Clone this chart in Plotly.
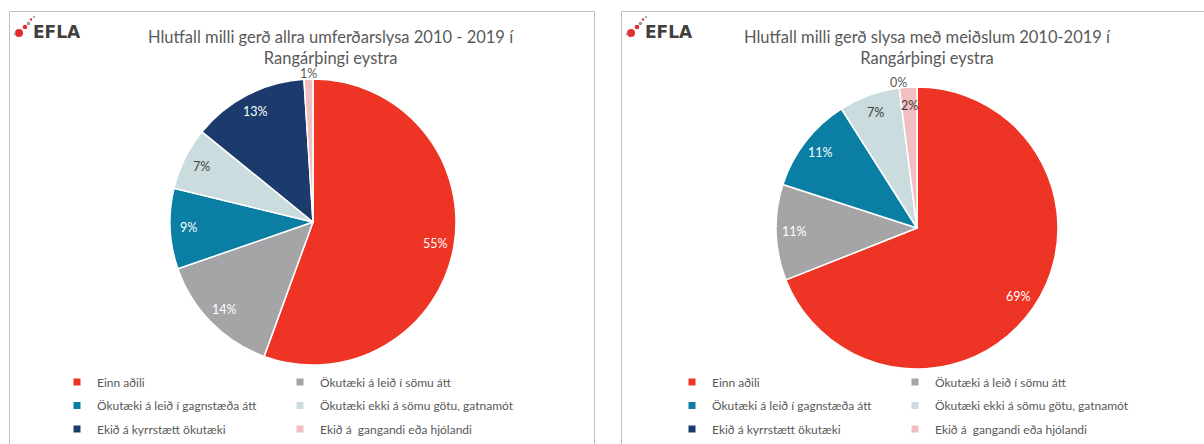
import math
import plotly.graph_objects as go

# ---------------- data ----------------
categories = [
    "Einn aðili",
    "Ökutæki á leið í sömu átt",
    "Ökutæki á leið í gagnstæða átt",
    "Ökutæki ekki á sömu götu, gatnamót",
    "Ekið á kyrrstætt ökutæki",
    "Ekið á  gangandi eða hjólandi",
]
all_accidents_pct = [55, 14, 9, 7, 13, 1]
injury_accidents_pct = [69, 11, 11, 7, 0, 2]
chart_titles = [
    "Hlutfall milli gerð allra umferðarslysa 2010 - 2019 í<br>Rangárþingi eystra",
    "Hlutfall milli gerð slysa með meiðslum 2010-2019 í<br>Rangárþingi eystra",
]
logo_text = "EFLA"

# ---------------- style ----------------
W, H = 1204, 444
FONT = "Lato, 'Open Sans', sans-serif"
TXT = "#595959"
slice_colors = ["#EE3424", "#A5A5A7", "#0A7FA3", "#CADCDE", "#1C3B6D", "#F1BEC1"]
label_colors = ["white", "white", "white", "#404040", "white", "#404040"]
pie_geom = [(313, 222, 143), (917, 228, 141)]   # centre x, centre y, radius (px)
AX_PAD = 1.25                                   # label axes extend beyond the pie
panel_x = [(9.5, 594.5), (621.5, 1215)]
panel_top = 11.5
title_cx = [331, 927]
logo_x = [0, 612]
legend_text_x = [97, 712]
legend_row_y = [382, 405.5, 429]
legend_col_step = 223
R_IN, R_OUT = 0.87, 1.04


def dom(cx, cy, r):
    return dict(x=[(cx - r) / W, (cx + r) / W], y=[1 - (cy + r) / H, 1 - (cy - r) / H])


fig = go.Figure()
annotations = []
shapes = []
series = [all_accidents_pct, injury_accidents_pct]

for k, vals in enumerate(series):
    cx, cy, r = pie_geom[k]
    fig.add_trace(go.Pie(
        labels=categories, values=vals, sort=False, direction="clockwise", rotation=0,
        marker=dict(colors=slice_colors, line=dict(color="white", width=1.5)),
        textinfo="none", hoverinfo="label+percent", showlegend=False,
        domain=dom(cx, cy, r),
    ))
    ax = "" if k == 0 else "2"
    da = dom(cx, cy, r * AX_PAD)
    fig.update_layout(**{
        f"xaxis{ax}": dict(domain=da["x"], range=[-AX_PAD, AX_PAD], visible=False, fixedrange=True),
        f"yaxis{ax}": dict(domain=da["y"], range=[-AX_PAD, AX_PAD], visible=False, fixedrange=True),
    })
    total = sum(vals)
    cum = 0
    for i, v in enumerate(vals):
        mid = 2 * math.pi * (cum + v / 2) / total
        cum += v
        outside = v <= 1
        rr = R_OUT if outside else R_IN
        annotations.append(dict(
            x=rr * math.sin(mid), y=rr * math.cos(mid), xref=f"x{ax}", yref=f"y{ax}",
            text=f"{v}%", showarrow=False,
            font=dict(family=FONT, size=12.5, color="#595959" if outside else label_colors[i]),
        ))
    # titles
    annotations.append(dict(
        x=title_cx[k] / W, y=1 - 25 / H, xref="paper", yref="paper", xanchor="center", yanchor="top",
        text=chart_titles[k], showarrow=False, align="center",
        font=dict(family=FONT, size=16.5, color=TXT),
    ))
    # logo
    lx = logo_x[k]
    annotations.append(dict(
        x=(lx + 31) / W, y=1 - 32 / H, xref="paper", yref="paper", xanchor="left", yanchor="middle",
        text=f"<b>{logo_text}</b>", showarrow=False, font=dict(family="DejaVu Sans", size=17, color="#404040"),
    ))
    for (dx, dy, rad, col) in [(19, 33, 4, "#E52E2E"), (25, 27, 2.3, "#E52E2E"), (28.5, 23.5, 1.8, "#9a9a9a"),
                               (31, 19.5, 1.2, "#E52E2E"), (34, 17, 1.1, "#9a9a9a"), (15, 34, 1.2, "#9a9a9a")]:
        shapes.append(dict(type="circle", xref="paper", yref="paper",
                           x0=(lx + dx - rad) / W, x1=(lx + dx + rad) / W,
                           y0=1 - (dy + rad) / H, y1=1 - (dy - rad) / H,
                           fillcolor=col, line=dict(width=0)))
    # panel border
    px0, px1 = panel_x[k]
    shapes.append(dict(type="rect", xref="paper", yref="paper", x0=px0 / W, x1=px1 / W,
                       y0=-0.1, y1=1 - panel_top / H, line=dict(color="#BFBFBF", width=1),
                       fillcolor="rgba(0,0,0,0)", layer="below"))

    # legends: 3 rows x 2 columns
    for j in range(3):
        lid = 3 * k + j + 1
        lname = "legend" if lid == 1 else f"legend{lid}"
        for c in range(2):
            idx = 2 * j + c
            fig.add_trace(go.Scatter(
                x=[None], y=[None], mode="markers", name=categories[idx],
                marker=dict(symbol="square", size=7, color=slice_colors[idx]),
                legend=lname, showlegend=True, hoverinfo="skip",
                legendwidth=(legend_col_step - 45) if c == 0 else 260,
            ))
        fig.update_layout(**{lname: dict(
            orientation="h", x=(legend_text_x[k] - 40) / W, xanchor="left",
            y=1 - legend_row_y[j] / H, yanchor="middle",
            bgcolor="rgba(0,0,0,0)", borderwidth=0,
            font=dict(family=FONT, size=12, color=TXT), itemclick=False, itemdoubleclick=False,
        )})

fig.update_layout(
    width=W, height=H, margin=dict(l=0, r=0, t=0, b=0),
    paper_bgcolor="white", plot_bgcolor="white",
    annotations=annotations, shapes=shapes,
)
fig.write_html("out.html", config={"displayModeBar": False},
               post_script="document.body.style.margin='0px';")
